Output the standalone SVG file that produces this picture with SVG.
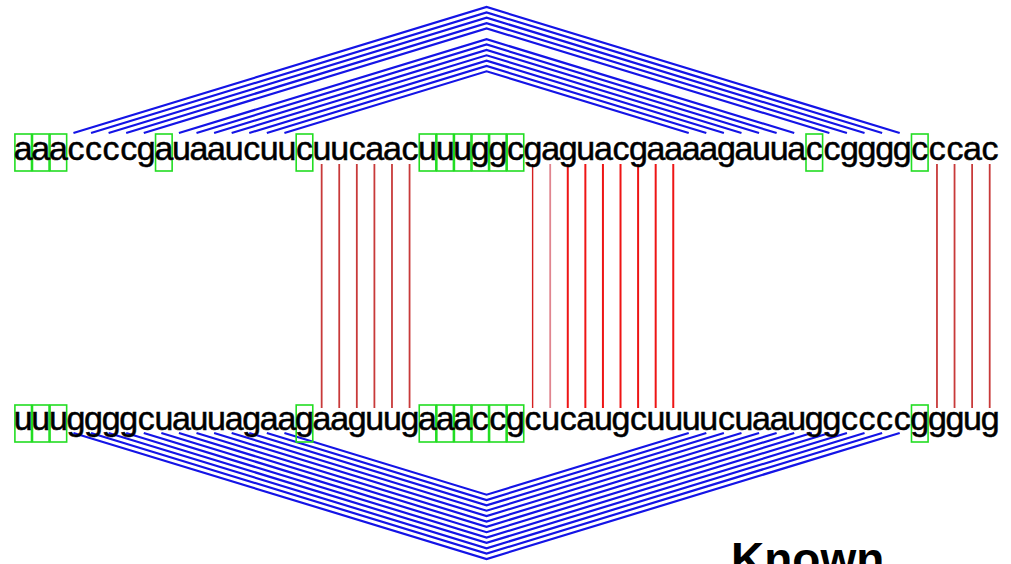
<svg xmlns="http://www.w3.org/2000/svg" width="1011" height="564" viewBox="0 0 1011 564">
<style>
.seq{font-family:"Liberation Sans",Arial,sans-serif;font-size:34px;fill:#000;stroke:#000;stroke-width:0.5;text-anchor:middle}
.box{fill:none;stroke:#22dd22;stroke-width:1.6}
.arc{fill:none;stroke:#1414e6;stroke-width:2.2;stroke-linejoin:miter}
.bp{stroke:#c83a3a;stroke-width:1.8}
.bp2{stroke:#ee1515;stroke-width:2}
.title{font-family:"Liberation Sans",Arial,sans-serif;font-size:46px;font-weight:bold;fill:#000}
</style>
<rect width="1011" height="564" fill="#fff"/>
<g id="connectors">
<g id="top-helix">
<polyline class="arc" points="73.44,133 486.57,7 899.7,133"/>
<polyline class="arc" points="91.02,133 486.57,12.4 882.12,133"/>
<polyline class="arc" points="108.6,133 486.57,17.7 864.54,133"/>
<polyline class="arc" points="126.18,133 486.57,23.1 846.96,133"/>
<polyline class="arc" points="143.76,133 486.57,28.4 829.38,133"/>
<polyline class="arc" points="178.92,133 486.57,39.2 794.22,133"/>
<polyline class="arc" points="196.5,133 486.57,44.5 776.64,133"/>
<polyline class="arc" points="214.08,133 486.57,49.9 759.06,133"/>
<polyline class="arc" points="231.66,133 486.57,55.3 741.48,133"/>
<polyline class="arc" points="249.24,133 486.57,60.6 723.9,133"/>
<polyline class="arc" points="266.82,133 486.57,66 706.32,133"/>
<polyline class="arc" points="284.4,133 486.57,71.3 688.74,133"/>
</g>
<g id="bottom-helix">
<polyline class="arc" points="73.44,433 486.57,559 899.7,433"/>
<polyline class="arc" points="91.02,433 486.57,553.6 882.12,433"/>
<polyline class="arc" points="108.6,433 486.57,548.3 864.54,433"/>
<polyline class="arc" points="126.18,433 486.57,542.9 846.96,433"/>
<polyline class="arc" points="143.76,433 486.57,537.6 829.38,433"/>
<polyline class="arc" points="161.34,433 486.57,532.2 811.8,433"/>
<polyline class="arc" points="178.92,433 486.57,526.8 794.22,433"/>
<polyline class="arc" points="196.5,433 486.57,521.5 776.64,433"/>
<polyline class="arc" points="214.08,433 486.57,516.1 759.06,433"/>
<polyline class="arc" points="231.66,433 486.57,510.7 741.48,433"/>
<polyline class="arc" points="249.24,433 486.57,505.4 723.9,433"/>
<polyline class="arc" points="266.82,433 486.57,500 706.32,433"/>
<polyline class="arc" points="284.4,433 486.57,494.7 688.74,433"/>
</g>
<g id="interactions">
<line class="bp" x1="321.66" y1="164" x2="321.66" y2="408"/>
<line class="bp" x1="339.24" y1="164" x2="339.24" y2="408"/>
<line class="bp" x1="356.82" y1="164" x2="356.82" y2="408"/>
<line class="bp" x1="374.4" y1="164" x2="374.4" y2="408"/>
<line class="bp" x1="391.98" y1="164" x2="391.98" y2="408"/>
<line class="bp" x1="409.56" y1="164" x2="409.56" y2="408"/>
<line x1="532.62" y1="164" x2="532.62" y2="408" stroke="#d42020" stroke-width="1.4"/>
<line x1="550.2" y1="164" x2="550.2" y2="408" stroke="#e0858f" stroke-width="1.8"/>
<line class="bp2" x1="567.78" y1="164" x2="567.78" y2="408"/>
<line class="bp2" x1="585.36" y1="164" x2="585.36" y2="408"/>
<line class="bp2" x1="602.94" y1="164" x2="602.94" y2="408"/>
<line class="bp2" x1="620.52" y1="164" x2="620.52" y2="408"/>
<line class="bp2" x1="638.1" y1="164" x2="638.1" y2="408"/>
<line class="bp2" x1="655.68" y1="164" x2="655.68" y2="408"/>
<line class="bp2" x1="673.26" y1="164" x2="673.26" y2="408"/>
<line class="bp" x1="936.96" y1="164" x2="936.96" y2="408"/>
<line class="bp" x1="954.54" y1="164" x2="954.54" y2="408"/>
<line class="bp" x1="972.12" y1="164" x2="972.12" y2="408"/>
<line class="bp" x1="989.7" y1="164" x2="989.7" y2="408"/>
</g>
</g>
<g id="top-strand">
<g id="top-boxes">
<rect class="box" x="14.9" y="134" width="16.6" height="37"/>
<rect class="box" x="32.48" y="134" width="16.6" height="37"/>
<rect class="box" x="50.06" y="134" width="16.6" height="37"/>
<rect class="box" x="155.54" y="134" width="16.6" height="37"/>
<rect class="box" x="296.18" y="134" width="16.6" height="37"/>
<rect class="box" x="419.24" y="134" width="16.6" height="37"/>
<rect class="box" x="436.82" y="134" width="16.6" height="37"/>
<rect class="box" x="454.4" y="134" width="16.6" height="37"/>
<rect class="box" x="471.98" y="134" width="16.6" height="37"/>
<rect class="box" x="489.56" y="134" width="16.6" height="37"/>
<rect class="box" x="507.14" y="134" width="16.6" height="37"/>
<rect class="box" x="806" y="134" width="16.6" height="37"/>
<rect class="box" x="911.48" y="134" width="16.6" height="37"/>
</g>
<text class="seq" y="160" x="23.2 40.78 58.36 75.94 93.52 111.1 128.68 146.26 163.84 181.42 199 216.58 234.16 251.74 269.32 286.9 304.48 322.06 339.64 357.22 374.8 392.38 409.96 427.54 445.12 462.7 480.28 497.86 515.44 533.02 550.6 568.18 585.76 603.34 620.92 638.5 656.08 673.66 691.24 708.82 726.4 743.98 761.56 779.14 796.72 814.3 831.88 849.46 867.04 884.62 902.2 919.78 937.36 954.94 972.52 990.1">aaaccccgauaaucuucuucaacuuuggcgaguacgaaaagauuaccggggcccac</text>
</g>
<g id="bottom-strand">
<g id="bottom-boxes">
<rect class="box" x="14.9" y="405" width="16.6" height="37"/>
<rect class="box" x="32.48" y="405" width="16.6" height="37"/>
<rect class="box" x="50.06" y="405" width="16.6" height="37"/>
<rect class="box" x="296.18" y="405" width="16.6" height="37"/>
<rect class="box" x="419.24" y="405" width="16.6" height="37"/>
<rect class="box" x="436.82" y="405" width="16.6" height="37"/>
<rect class="box" x="454.4" y="405" width="16.6" height="37"/>
<rect class="box" x="471.98" y="405" width="16.6" height="37"/>
<rect class="box" x="489.56" y="405" width="16.6" height="37"/>
<rect class="box" x="507.14" y="405" width="16.6" height="37"/>
<rect class="box" x="911.48" y="405" width="16.6" height="37"/>
</g>
<text class="seq" y="430" x="23.2 40.78 58.36 75.94 93.52 111.1 128.68 146.26 163.84 181.42 199 216.58 234.16 251.74 269.32 286.9 304.48 322.06 339.64 357.22 374.8 392.38 409.96 427.54 445.12 462.7 480.28 497.86 515.44 533.02 550.6 568.18 585.76 603.34 620.92 638.5 656.08 673.66 691.24 708.82 726.4 743.98 761.56 779.14 796.72 814.3 831.88 849.46 867.04 884.62 902.2 919.78 937.36 954.94 972.52 990.1">uuuggggcuauuagaagaaguugaaaccgcucaugcuuuucuaauggccccgggug</text>
</g>
<g id="title">
<text class="title" x="731" y="575">Known</text>
</g>
</svg>
